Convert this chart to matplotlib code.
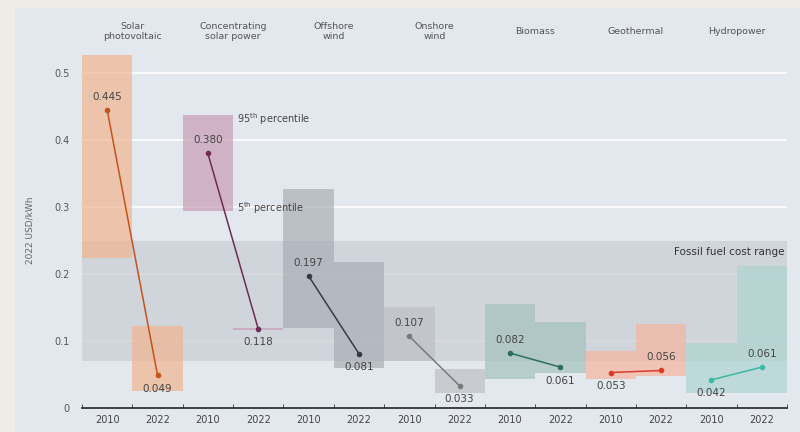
import matplotlib.pyplot as plt
import numpy as np
from matplotlib.patches import Rectangle

# technologies and LCOE data (2022 USD/kWh)
techs = ["Solar\nphotovoltaic", "Concentrating\nsolar power", "Offshore\nwind", "Onshore\nwind",
         "Biomass", "Geothermal", "Hydropower"]
years = ["2010", "2022"]
avg_2010 = [0.445, 0.380, 0.197, 0.107, 0.082, 0.053, 0.042]
avg_2022 = [0.049, 0.118, 0.081, 0.033, 0.061, 0.056, 0.061]
# 5th / 95th percentile ranges
p5_2010 = [0.224, 0.294, 0.119, 0.070, 0.043, 0.043, 0.022]
p95_2010 = [0.527, 0.437, 0.327, 0.151, 0.155, 0.085, 0.097]
p5_2022 = [0.026, 0.116, 0.060, 0.022, 0.052, 0.048, 0.022]
p95_2022 = [0.122, 0.120, 0.218, 0.058, 0.128, 0.125, 0.212]
fossil_low = 0.070
fossil_high = 0.250

bar_colors = ["#f0b48c", "#c89ab4", "#a8acb4", "#bcbfc2", "#a3c1bb", "#f6b49c", "#acd3cf"]
line_colors = ["#c4531c", "#6e2c55", "#363b46", "#7a7a7a", "#2c6d64", "#dd3a28", "#3db9a6"]

fig = plt.figure(figsize=(8, 4.32), dpi=100, facecolor="#eeece7")
fig.patches.append(Rectangle((15 / 800, 0), 785 / 800, 424 / 432, transform=fig.transFigure,
                             facecolor="#e3e7ee", edgecolor="none", zorder=-1))
ax = fig.add_axes([82 / 800, 24 / 432, 705 / 800, 355 / 432])
ax.set_zorder(2)
ax.set_facecolor("none")

n = len(techs)
x10 = np.arange(n) * 2
x22 = x10 + 1

# grid
for g in [0.1, 0.2, 0.3, 0.4, 0.5]:
    ax.axhline(g, color="white", lw=1.2, zorder=0.5)

# fossil band
ax.axhspan(fossil_low, fossil_high, color="#c9ccd3", alpha=0.7, lw=0, zorder=1)
ax.text(13.45, 0.233, "Fossil fuel cost range", ha="right", va="center", fontsize=7.5,
        color="#333333", zorder=5)

for i in range(n):
    ax.bar(x10[i], p95_2010[i] - p5_2010[i], bottom=p5_2010[i], width=1.0,
           color=bar_colors[i], alpha=0.68, lw=0, zorder=2)
    ax.bar(x22[i], p95_2022[i] - p5_2022[i], bottom=p5_2022[i], width=1.0,
           color=bar_colors[i], alpha=0.68, lw=0, zorder=2)
    ax.plot([x10[i], x22[i]], [avg_2010[i], avg_2022[i]], color=line_colors[i], lw=1.1,
            marker="o", ms=3, zorder=4)
    hi10 = avg_2010[i] >= avg_2022[i]
    off = 0.02
    ax.text(x10[i], avg_2010[i] + (off if hi10 else -off), f"{avg_2010[i]:.3f}",
            ha="center", va="center", fontsize=7.5, color="#444444", zorder=5)
    ax.text(x22[i], avg_2022[i] + (-off if hi10 else off), f"{avg_2022[i]:.3f}",
            ha="center", va="center", fontsize=7.5, color="#444444", zorder=5)
    ax.text(x10[i] + 0.5, 1.06, techs[i], transform=ax.get_xaxis_transform(),
            ha="center", va="center", fontsize=6.8, color="#555555", linespacing=1.1)

ax.text(2.58, p95_2010[1] - 0.006, "95$^{\\mathrm{th}}$ percentile", ha="left", va="center",
        fontsize=7, color="#444444")
ax.text(2.58, p5_2010[1] + 0.004, "5$^{\\mathrm{th}}$ percentile", ha="left", va="center",
        fontsize=7, color="#444444")

ax.set_xlim(-0.5, 2 * n - 0.5)
ax.set_ylim(0, 0.53)
ax.set_xticks(np.concatenate([x10, x22]))
ax.set_xticklabels([years[0]] * n + [years[1]] * n)
ax.set_xticks(np.arange(2 * n + 1) - 0.5, minor=True)
ax.tick_params(axis="x", which="major", length=0, labelsize=7, colors="#444444", pad=5)
ax.tick_params(axis="x", which="minor", length=3, direction="in", color="#333333")
ax.set_yticks([0, 0.1, 0.2, 0.3, 0.4, 0.5])
ax.set_yticklabels(["0", "0.1", "0.2", "0.3", "0.4", "0.5"])
ax.tick_params(axis="y", length=0, labelsize=7, colors="#555555", pad=9)
ax.set_ylabel("2022 USD/kWh", fontsize=6.5, color="#666666", labelpad=14)
for s in ["top", "right", "left"]:
    ax.spines[s].set_visible(False)
ax.spines["bottom"].set_color("#333333")
ax.spines["bottom"].set_linewidth(1.3)

fig.savefig("out.png", dpi=100, facecolor=fig.get_facecolor())
